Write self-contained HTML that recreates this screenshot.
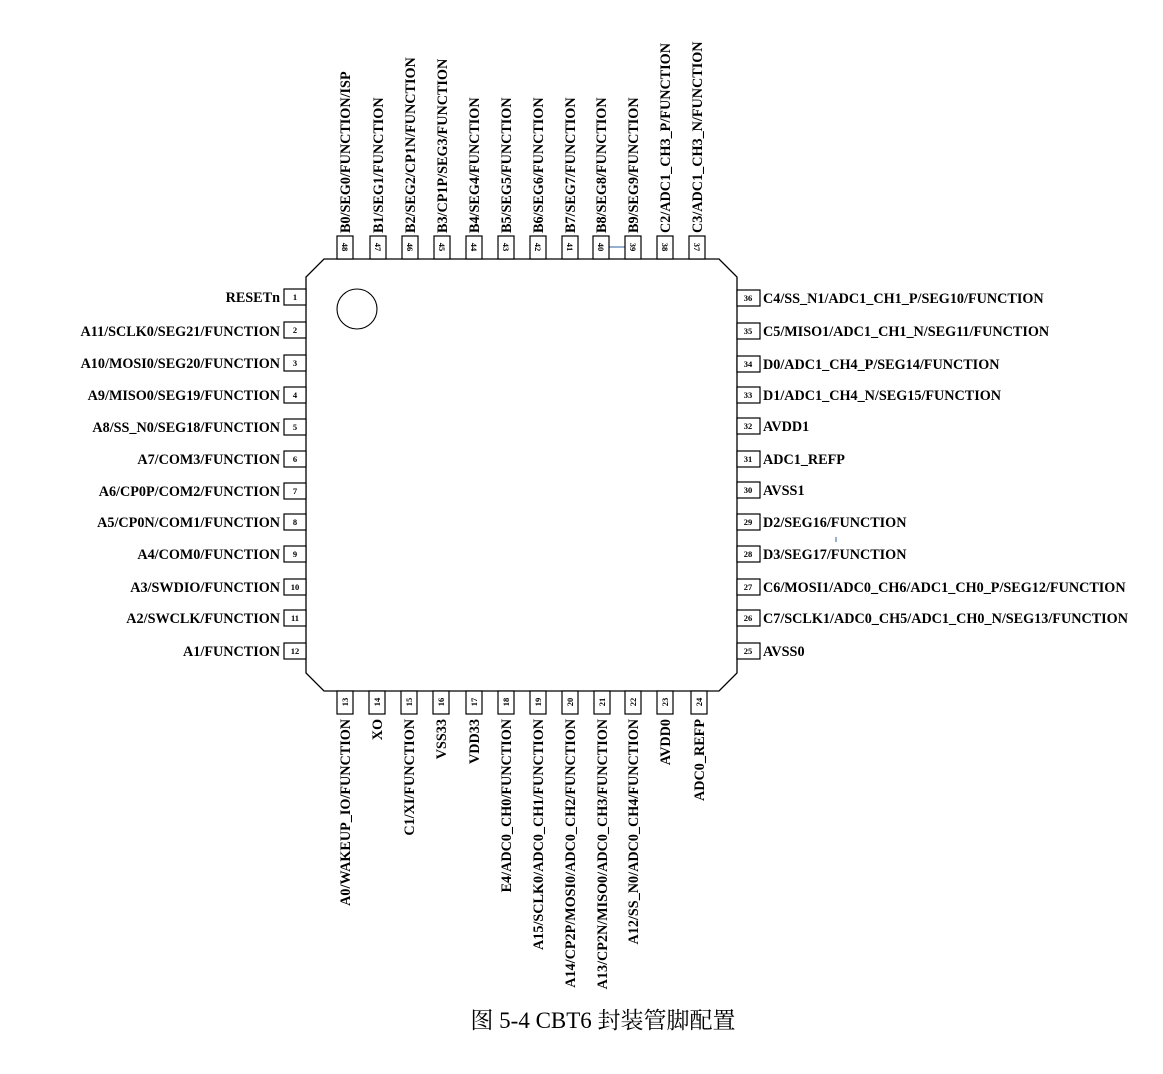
<!DOCTYPE html>
<html><head><meta charset="utf-8"><style>
html,body{margin:0;padding:0;background:#fff;}
svg{display:block;}
.l{font-family:"Liberation Serif",serif;font-weight:bold;font-size:14.2px;fill:#000;}
.n{font-family:"Liberation Serif",serif;font-size:8.5px;font-weight:bold;fill:#000;}
.c{font-family:"Liberation Serif","Noto Serif CJK SC",serif;font-size:23px;fill:#000;}
rect{fill:#fff;stroke:#000;stroke-width:1.2;}
</style></head><body>
<svg width="1163" height="1074" viewBox="0 0 1163 1074" xmlns="http://www.w3.org/2000/svg">
<polygon points="324,259 719,259 737,277 737,673 719,691 324,691 306,673 306,277" fill="#fff" stroke="#000" stroke-width="1.3"/>
<circle cx="357" cy="309" r="20" fill="none" stroke="#000" stroke-width="1.1"/>
<line x1="609" y1="247" x2="625" y2="247" stroke="#3060a0" stroke-width="1"/>
<line x1="836" y1="537" x2="836" y2="542" stroke="#3060a0" stroke-width="1"/>
<g>
<rect x="284" y="289" width="22" height="16"/><text class="n" x="295" y="300" text-anchor="middle">1</text><text class="l" x="280" y="302" text-anchor="end">RESETn</text>
<rect x="284" y="322" width="22" height="16"/><text class="n" x="295" y="333" text-anchor="middle">2</text><text class="l" x="280" y="336" text-anchor="end">A11/SCLK0/SEG21/FUNCTION</text>
<rect x="284" y="355" width="22" height="16"/><text class="n" x="295" y="366" text-anchor="middle">3</text><text class="l" x="280" y="368" text-anchor="end">A10/MOSI0/SEG20/FUNCTION</text>
<rect x="284" y="387" width="22" height="16"/><text class="n" x="295" y="398" text-anchor="middle">4</text><text class="l" x="280" y="400" text-anchor="end">A9/MISO0/SEG19/FUNCTION</text>
<rect x="284" y="419" width="22" height="16"/><text class="n" x="295" y="430" text-anchor="middle">5</text><text class="l" x="280" y="432" text-anchor="end">A8/SS_N0/SEG18/FUNCTION</text>
<rect x="284" y="451" width="22" height="16"/><text class="n" x="295" y="462" text-anchor="middle">6</text><text class="l" x="280" y="464" text-anchor="end">A7/COM3/FUNCTION</text>
<rect x="284" y="483" width="22" height="16"/><text class="n" x="295" y="494" text-anchor="middle">7</text><text class="l" x="280" y="496" text-anchor="end">A6/CP0P/COM2/FUNCTION</text>
<rect x="284" y="514" width="22" height="16"/><text class="n" x="295" y="525" text-anchor="middle">8</text><text class="l" x="280" y="527" text-anchor="end">A5/CP0N/COM1/FUNCTION</text>
<rect x="284" y="546" width="22" height="16"/><text class="n" x="295" y="557" text-anchor="middle">9</text><text class="l" x="280" y="559" text-anchor="end">A4/COM0/FUNCTION</text>
<rect x="284" y="579" width="22" height="16"/><text class="n" x="295" y="590" text-anchor="middle">10</text><text class="l" x="280" y="592" text-anchor="end">A3/SWDIO/FUNCTION</text>
<rect x="284" y="610" width="22" height="16"/><text class="n" x="295" y="621" text-anchor="middle">11</text><text class="l" x="280" y="623" text-anchor="end">A2/SWCLK/FUNCTION</text>
<rect x="284" y="643" width="22" height="16"/><text class="n" x="295" y="654" text-anchor="middle">12</text><text class="l" x="280" y="656" text-anchor="end">A1/FUNCTION</text>
</g>
<g>
<rect x="737" y="290" width="23" height="16"/><text class="n" x="748" y="301" text-anchor="middle">36</text><text class="l" x="763" y="303">C4/SS_N1/ADC1_CH1_P/SEG10/FUNCTION</text>
<rect x="737" y="323" width="23" height="16"/><text class="n" x="748" y="334" text-anchor="middle">35</text><text class="l" x="763" y="336">C5/MISO1/ADC1_CH1_N/SEG11/FUNCTION</text>
<rect x="737" y="356" width="23" height="16"/><text class="n" x="748" y="367" text-anchor="middle">34</text><text class="l" x="763" y="369">D0/ADC1_CH4_P/SEG14/FUNCTION</text>
<rect x="737" y="387" width="23" height="16"/><text class="n" x="748" y="398" text-anchor="middle">33</text><text class="l" x="763" y="400">D1/ADC1_CH4_N/SEG15/FUNCTION</text>
<rect x="737" y="418" width="23" height="16"/><text class="n" x="748" y="429" text-anchor="middle">32</text><text class="l" x="763" y="431">AVDD1</text>
<rect x="737" y="451" width="23" height="16"/><text class="n" x="748" y="462" text-anchor="middle">31</text><text class="l" x="763" y="464">ADC1_REFP</text>
<rect x="737" y="482" width="23" height="16"/><text class="n" x="748" y="493" text-anchor="middle">30</text><text class="l" x="763" y="495">AVSS1</text>
<rect x="737" y="514" width="23" height="16"/><text class="n" x="748" y="525" text-anchor="middle">29</text><text class="l" x="763" y="527">D2/SEG16/FUNCTION</text>
<rect x="737" y="546" width="23" height="16"/><text class="n" x="748" y="557" text-anchor="middle">28</text><text class="l" x="763" y="559">D3/SEG17/FUNCTION</text>
<rect x="737" y="579" width="23" height="16"/><text class="n" x="748" y="590" text-anchor="middle">27</text><text class="l" x="763" y="592">C6/MOSI1/ADC0_CH6/ADC1_CH0_P/SEG12/FUNCTION</text>
<rect x="737" y="610" width="23" height="16"/><text class="n" x="748" y="621" text-anchor="middle">26</text><text class="l" x="763" y="623">C7/SCLK1/ADC0_CH5/ADC1_CH0_N/SEG13/FUNCTION</text>
<rect x="737" y="643" width="23" height="16"/><text class="n" x="748" y="654" text-anchor="middle">25</text><text class="l" x="763" y="656">AVSS0</text>
</g>
<g>
<rect x="337" y="236" width="16" height="23"/><text class="n" transform="translate(342,247) rotate(90)" text-anchor="middle">48</text><text class="l" transform="translate(350,233) rotate(-90)">B0/SEG0/FUNCTION/ISP</text>
<rect x="370" y="236" width="16" height="23"/><text class="n" transform="translate(375,247) rotate(90)" text-anchor="middle">47</text><text class="l" transform="translate(383,233) rotate(-90)">B1/SEG1/FUNCTION</text>
<rect x="402" y="236" width="16" height="23"/><text class="n" transform="translate(407,247) rotate(90)" text-anchor="middle">46</text><text class="l" transform="translate(415,233) rotate(-90)">B2/SEG2/CP1N/FUNCTION</text>
<rect x="434" y="236" width="16" height="23"/><text class="n" transform="translate(439,247) rotate(90)" text-anchor="middle">45</text><text class="l" transform="translate(447,233) rotate(-90)">B3/CP1P/SEG3/FUNCTION</text>
<rect x="466" y="236" width="16" height="23"/><text class="n" transform="translate(471,247) rotate(90)" text-anchor="middle">44</text><text class="l" transform="translate(479,233) rotate(-90)">B4/SEG4/FUNCTION</text>
<rect x="498" y="236" width="16" height="23"/><text class="n" transform="translate(503,247) rotate(90)" text-anchor="middle">43</text><text class="l" transform="translate(511,233) rotate(-90)">B5/SEG5/FUNCTION</text>
<rect x="530" y="236" width="16" height="23"/><text class="n" transform="translate(535,247) rotate(90)" text-anchor="middle">42</text><text class="l" transform="translate(543,233) rotate(-90)">B6/SEG6/FUNCTION</text>
<rect x="562" y="236" width="16" height="23"/><text class="n" transform="translate(567,247) rotate(90)" text-anchor="middle">41</text><text class="l" transform="translate(575,233) rotate(-90)">B7/SEG7/FUNCTION</text>
<rect x="593" y="236" width="16" height="23"/><text class="n" transform="translate(598,247) rotate(90)" text-anchor="middle">40</text><text class="l" transform="translate(606,233) rotate(-90)">B8/SEG8/FUNCTION</text>
<rect x="625" y="236" width="16" height="23"/><text class="n" transform="translate(630,247) rotate(90)" text-anchor="middle">39</text><text class="l" transform="translate(638,233) rotate(-90)">B9/SEG9/FUNCTION</text>
<rect x="657" y="236" width="16" height="23"/><text class="n" transform="translate(662,247) rotate(90)" text-anchor="middle">38</text><text class="l" transform="translate(670,233) rotate(-90)">C2/ADC1_CH3_P/FUNCTION</text>
<rect x="689" y="236" width="16" height="23"/><text class="n" transform="translate(694,247) rotate(90)" text-anchor="middle">37</text><text class="l" transform="translate(702,233) rotate(-90)">C3/ADC1_CH3_N/FUNCTION</text>
</g>
<g>
<rect x="337" y="691" width="16" height="23"/><text class="n" transform="translate(348,702) rotate(-90)" text-anchor="middle">13</text><text class="l" transform="translate(350,719) rotate(-90)" text-anchor="end">A0/WAKEUP_IO/FUNCTION</text>
<rect x="369" y="691" width="16" height="23"/><text class="n" transform="translate(380,702) rotate(-90)" text-anchor="middle">14</text><text class="l" transform="translate(382,719) rotate(-90)" text-anchor="end">XO</text>
<rect x="401" y="691" width="16" height="23"/><text class="n" transform="translate(412,702) rotate(-90)" text-anchor="middle">15</text><text class="l" transform="translate(414,719) rotate(-90)" text-anchor="end">C1/XI/FUNCTION</text>
<rect x="433" y="691" width="16" height="23"/><text class="n" transform="translate(444,702) rotate(-90)" text-anchor="middle">16</text><text class="l" transform="translate(446,719) rotate(-90)" text-anchor="end">VSS33</text>
<rect x="466" y="691" width="16" height="23"/><text class="n" transform="translate(477,702) rotate(-90)" text-anchor="middle">17</text><text class="l" transform="translate(479,719) rotate(-90)" text-anchor="end">VDD33</text>
<rect x="498" y="691" width="16" height="23"/><text class="n" transform="translate(509,702) rotate(-90)" text-anchor="middle">18</text><text class="l" transform="translate(511,719) rotate(-90)" text-anchor="end">E4/ADC0_CH0/FUNCTION</text>
<rect x="530" y="691" width="16" height="23"/><text class="n" transform="translate(541,702) rotate(-90)" text-anchor="middle">19</text><text class="l" transform="translate(543,719) rotate(-90)" text-anchor="end">A15/SCLK0/ADC0_CH1/FUNCTION</text>
<rect x="562" y="691" width="16" height="23"/><text class="n" transform="translate(573,702) rotate(-90)" text-anchor="middle">20</text><text class="l" transform="translate(575,719) rotate(-90)" text-anchor="end">A14/CP2P/MOSI0/ADC0_CH2/FUNCTION</text>
<rect x="594" y="691" width="16" height="23"/><text class="n" transform="translate(605,702) rotate(-90)" text-anchor="middle">21</text><text class="l" transform="translate(607,719) rotate(-90)" text-anchor="end">A13/CP2N/MISO0/ADC0_CH3/FUNCTION</text>
<rect x="625" y="691" width="16" height="23"/><text class="n" transform="translate(636,702) rotate(-90)" text-anchor="middle">22</text><text class="l" transform="translate(638,719) rotate(-90)" text-anchor="end">A12/SS_N0/ADC0_CH4/FUNCTION</text>
<rect x="657" y="691" width="16" height="23"/><text class="n" transform="translate(668,702) rotate(-90)" text-anchor="middle">23</text><text class="l" transform="translate(670,719) rotate(-90)" text-anchor="end">AVDD0</text>
<rect x="691" y="691" width="16" height="23"/><text class="n" transform="translate(702,702) rotate(-90)" text-anchor="middle">24</text><text class="l" transform="translate(704,719) rotate(-90)" text-anchor="end">ADC0_REFP</text>
</g>
<text class="c" x="603" y="1028" text-anchor="middle">图  5-4 CBT6 封装管脚配置</text>
</svg>
</body></html>
